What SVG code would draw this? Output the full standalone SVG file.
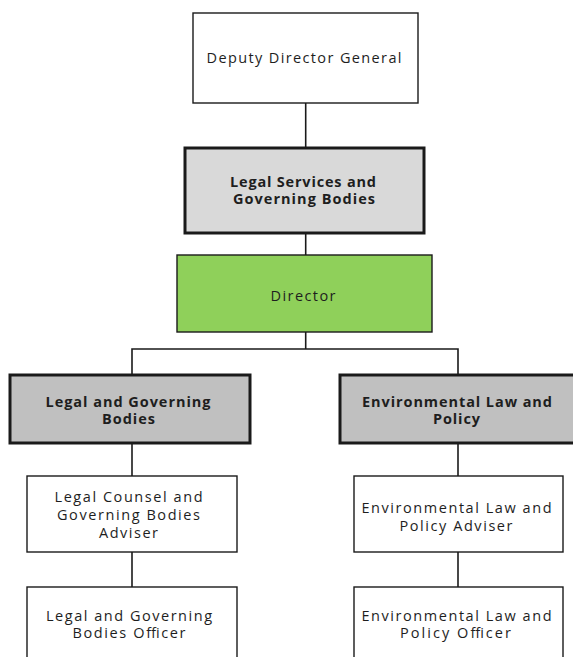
<svg xmlns="http://www.w3.org/2000/svg" width="573" height="657" viewBox="0 0 573 657">
<style>
.box{stroke:#1a1a1a;stroke-width:1.4}
.thick{stroke:#1a1a1a;stroke-width:3}
.white{fill:#ffffff}
.lgray{fill:#d9d9d9}
.dgray{fill:#c0c0c0}
.green{fill:#8fd05a}
text{font-family:"Open Sans","Liberation Sans",Arial,sans-serif;font-size:14.5px;fill:#1e1e1e;text-anchor:middle}
.b{font-weight:bold}
.conn{stroke:#1a1a1a;stroke-width:1.6;fill:none}
</style>
<rect width="573" height="657" fill="#ffffff"/>
<g id="connectors">
<line class="conn" x1="305.7" y1="103" x2="305.7" y2="148"/>
<line class="conn" x1="305.7" y1="233" x2="305.7" y2="255"/>
<line class="conn" x1="305.7" y1="332" x2="305.7" y2="349"/>
<polyline class="conn" points="132,375 132,349 458,349 458,375"/>
<line class="conn" x1="132" y1="444" x2="132" y2="476"/>
<line class="conn" x1="132" y1="552" x2="132" y2="587"/>
<line class="conn" x1="458" y1="444" x2="458" y2="476"/>
<line class="conn" x1="458" y1="552" x2="458" y2="587"/>
</g>
<g id="deputy-director-general">
<rect class="box white" x="193" y="13" width="225" height="90"/>
<text x="304" y="63" textLength="195" lengthAdjust="spacing">Deputy Director General</text>
</g>
<g id="legal-services">
<rect class="thick lgray" x="185" y="148" width="239" height="85"/>
<text class="b" x="303" y="186.5" textLength="146" lengthAdjust="spacing">Legal Services and</text>
<text class="b" x="304" y="204" textLength="142" lengthAdjust="spacing">Governing Bodies</text>
</g>
<g id="director">
<rect class="box green" x="177" y="255" width="255" height="77"/>
<text x="303" y="301" textLength="65" lengthAdjust="spacing">Director</text>
</g>
<g id="legal-governing-bodies">
<rect class="thick dgray" x="10" y="375" width="240" height="68"/>
<text class="b" x="128" y="406.5" textLength="165" lengthAdjust="spacing">Legal and Governing</text>
<text class="b" x="128.5" y="424" textLength="53" lengthAdjust="spacing">Bodies</text>
</g>
<g id="environmental-law-policy">
<rect class="thick dgray" x="340" y="375" width="240" height="68"/>
<text class="b" x="457" y="406.5" textLength="190" lengthAdjust="spacing">Environmental Law and</text>
<text class="b" x="456.5" y="424" textLength="47" lengthAdjust="spacing">Policy</text>
</g>
<g id="legal-counsel-adviser">
<rect class="box white" x="27" y="476" width="210" height="76"/>
<text x="128.5" y="501.5" textLength="148" lengthAdjust="spacing">Legal Counsel and</text>
<text x="128.5" y="520" textLength="143" lengthAdjust="spacing">Governing Bodies</text>
<text x="128.5" y="538" textLength="59" lengthAdjust="spacing">Adviser</text>
</g>
<g id="legal-governing-officer">
<rect class="box white" x="27" y="587" width="210" height="90"/>
<text x="129" y="620.5" textLength="166" lengthAdjust="spacing">Legal and Governing</text>
<text x="129" y="638" textLength="113" lengthAdjust="spacing">Bodies Officer</text>
</g>
<g id="environmental-law-adviser">
<rect class="box white" x="354" y="476" width="209" height="76"/>
<text x="456.5" y="512.5" textLength="190" lengthAdjust="spacing">Environmental Law and</text>
<text x="456" y="530.5" textLength="113" lengthAdjust="spacing">Policy Adviser</text>
</g>
<g id="environmental-law-officer">
<rect class="box white" x="354" y="587" width="209" height="90"/>
<text x="456.5" y="620.5" textLength="190" lengthAdjust="spacing">Environmental Law and</text>
<text x="455.5" y="638" textLength="111" lengthAdjust="spacing">Policy Officer</text>
</g>
</svg>
